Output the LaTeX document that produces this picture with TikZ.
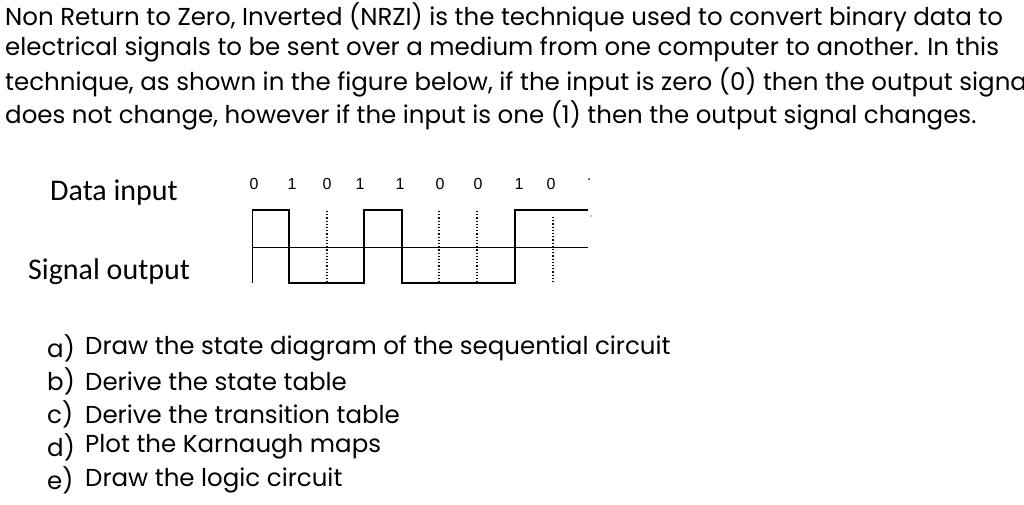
\documentclass[tikz,border=0pt]{standalone}
\usepackage{fontspec}
\setmainfont{Poppins}
\newfontfamily\calfnt{Carlito}
\newfontfamily\arlfnt{Liberation Sans}
\begin{document}
\begin{tikzpicture}[x=1pt,y=-1pt,
  txt/.style={anchor=west,inner sep=0pt,font=\fontsize{24.5}{28}\selectfont},
  lbl/.style={anchor=west,inner sep=0pt,font=\calfnt\fontsize{30}{34}\selectfont},
  bit/.style={inner sep=0pt,font=\arlfnt\fontsize{16}{18}\selectfont},
  wave/.style={line width=1.8pt},
  thin/.style={line width=0.7pt},
  dots/.style={line width=1.2pt,dotted}]
\useasboundingbox (0,0) rectangle (1024,504);
\node[txt] (l1) at (5,17) {Non Return to Zero, Inverted (NRZI) is the technique used to convert binary data to};
\node[txt] (l2) at (5,49) {electrical signals to be sent over a medium from one computer to another. In this};
\node[txt] (l3) at (5,82) {technique, as shown in the figure below, if the input is zero (0) then the output signal};
\node[txt] (l4) at (5,115) {does not change, however if the input is one (1) then the output signal changes.};
\node[lbl] (di) at (50,193) {Data input};
\node[lbl] (so) at (28,272) {Signal output};
\foreach \x/\b [count=\i] in {254/0,292/1,327/0,360/1,400/1,440/0,478/0,519/1,551/0}
  \node[bit] (b\i) at (\x,184) {\b};
\node[inner sep=0.7pt,fill=black,circle] (d1) at (589,179) {};
\node[inner sep=0.5pt,fill=black,circle] (d2) at (591,216) {};
\coordinate (m0) at (252,247); \coordinate (m1) at (588,247);
\draw[thin] (m0) -- (m1);
\coordinate (v0) at (252,283);
\draw[thin] (v0) -- (252,210);
\draw[wave] (252,210) -- (289,210) -- (289,283) -- (364,283) -- (364,210) -- (402,210) -- (402,283) -- (515,283) -- (515,210) -- (588,210);
\foreach \x/\t in {327/211,439/211,477/211,553/217}
  \draw[dots] (\x,\t) -- (\x,284);
\foreach \y/\l/\t in {348/a)/Draw the state diagram of the sequential circuit,381/b)/Derive the state table,414/c)/Derive the transition table,447/d)/Plot the Karnaugh maps,480/e)/Draw the logic circuit}{
  \node[txt] (k\l) at (47,\y) {\l};
  \node[txt] (t\l) at (85,\y) {\t};}
\end{tikzpicture}
\end{document}
